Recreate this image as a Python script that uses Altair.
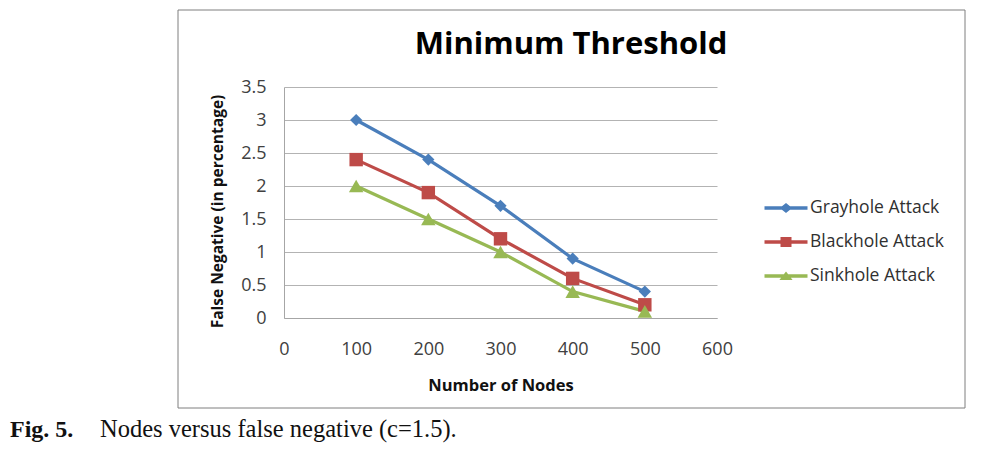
import altair as alt
import pandas as pd

nodes = [100, 200, 300, 400, 500]
grayhole = [3.0, 2.4, 1.7, 0.9, 0.4]
blackhole = [2.4, 1.9, 1.2, 0.6, 0.2]
sinkhole = [2.0, 1.5, 1.0, 0.4, 0.1]
series_names = ["Grayhole Attack", "Blackhole Attack", "Sinkhole Attack"]
colors = ["#4A7EBB", "#BE4B48", "#98B954"]
shapes = ["diamond", "square", "triangle-up"]
x_ticks = [0, 100, 200, 300, 400, 500, 600]
y_ticks = [0.0, 0.5, 1.0, 1.5, 2.0, 2.5, 3.0, 3.5]
chart_title = "Minimum Threshold"
x_title = "Number of Nodes"
y_title = "False Negative (in percentage)"
caption_bold = "Fig. 5."
caption_rest = "Nodes versus false negative (c=1.5)."

rows = []
for name, vals in zip(series_names, [grayhole, blackhole, sinkhole]):
    for n, v in zip(nodes, vals):
        rows.append({"series": name, "nodes": n, "value": v})
df = pd.DataFrame(rows)

# legend symbols: line with marker in the middle (unit coords, r = sqrt(size)/2)
legend_paths = [
    "M-2.15,-0.17H2.15V0.17H-2.15Z M0,-0.5L0.62,0L0,0.5L-0.62,0Z",
    "M-2.15,-0.17H2.15V0.17H-2.15Z M-0.55,-0.5H0.55V0.5H-0.55Z",
    "M-2.15,-0.17H2.15V0.17H-2.15Z M0,-0.45L0.66,0.4H-0.66Z",
]

W, H = 433, 231
PL, PT = 276, 79
PR = 969 - PL - W
PB = 435 - PT - H

FONT = "Open Sans"

x_axis = alt.Axis(
    values=x_ticks, title=x_title, grid=False, ticks=False,
    labelPadding=22, titlePadding=19, labelFont=FONT, labelFontSize=18,
    labelColor="#404040", titleFont=FONT, titleFontSize=16.5,
    titleFontWeight="bold", titleColor="#111111", domainColor="#A6A6A6",
    labelFlush=False,
)
y_axis = alt.Axis(
    values=y_ticks, title=y_title, format="~g", grid=True, gridColor="#B3B3B3",
    ticks=False, labelPadding=18, titlePadding=15, labelFont=FONT,
    labelFontSize=18, labelColor="#404040", titleFont=FONT, titleFontSize=15.5,
    titleFontWeight="bold", titleColor="#111111", domainColor="#A6A6A6",
    titleY=124, labelOverlap=False, labelFlush=False,
)
x_enc = alt.X("nodes:Q", scale=alt.Scale(domain=[0, 600]), axis=x_axis)
y_enc = alt.Y("value:Q", scale=alt.Scale(domain=[0, 3.5]), axis=y_axis)

color_chart = alt.Color("series:N", scale=alt.Scale(domain=series_names, range=colors), legend=None)
shape_chart = alt.Shape("series:N", scale=alt.Scale(domain=series_names, range=shapes), legend=None)

lines = alt.Chart(df).mark_line(strokeWidth=3.2).encode(x=x_enc, y=y_enc, color=color_chart)
points = alt.Chart(df).mark_point(filled=True, opacity=1).encode(
    x=x_enc, y=y_enc, color=color_chart, shape=shape_chart,
    size=alt.Size("series:N", scale=alt.Scale(domain=series_names, range=[150, 210, 210]), legend=None),
)

legend_props = dict(
    title=None, orient="none", legendX=492, legendY=111, rowPadding=15,
    labelFont=FONT, labelFontSize=17.5, labelColor="#303030", labelOffset=14,
    symbolStrokeWidth=0, padding=0, symbolSize=400,
)
legend_layer = alt.Chart(df).transform_filter("false").mark_point(filled=True, opacity=1, size=400).encode(
    color=alt.Color(
        "series:N", scale=alt.Scale(domain=series_names, range=colors),
        legend=alt.Legend(**legend_props),
    ),
    shape=alt.Shape(
        "series:N", scale=alt.Scale(domain=series_names, range=legend_paths),
        legend=alt.Legend(**legend_props),
    ),
)

one = pd.DataFrame({"k": [0]})
frame = alt.Chart(one).mark_rect(filled=False, stroke="#7F7F7F", strokeWidth=1).encode(
    x=alt.value(178 - 284), x2=alt.value(965 - 284), y=alt.value(10 - 87), y2=alt.value(408 - 87)
)
title = alt.Chart(one).mark_text(
    text=chart_title, font=FONT, fontSize=31, fontWeight="bold", color="#000000",
    align="center", baseline="alphabetic",
).encode(x=alt.value(287), y=alt.value(-33))
cap1 = alt.Chart(one).mark_text(
    text=caption_bold, font="Liberation Serif", fontSize=24, fontWeight="bold",
    color="#111111", align="left", baseline="alphabetic",
).encode(x=alt.value(10 - 284), y=alt.value(350))
cap2 = alt.Chart(one).mark_text(
    text=caption_rest, font="Liberation Serif", fontSize=24.5, color="#111111",
    align="left", baseline="alphabetic",
).encode(x=alt.value(100 - 284), y=alt.value(350))

chart = alt.layer(frame, lines, points, legend_layer, title, cap1, cap2).resolve_scale(
    color="independent", shape="independent"
).properties(
    width=W, height=H,
    padding={"left": PL, "top": PT, "right": PR, "bottom": PB},
    autosize=alt.AutoSizeParams(type="none"),
).configure_view(strokeWidth=0)

chart.save("out.html", embed_options={"renderer": "svg", "actions": False})
